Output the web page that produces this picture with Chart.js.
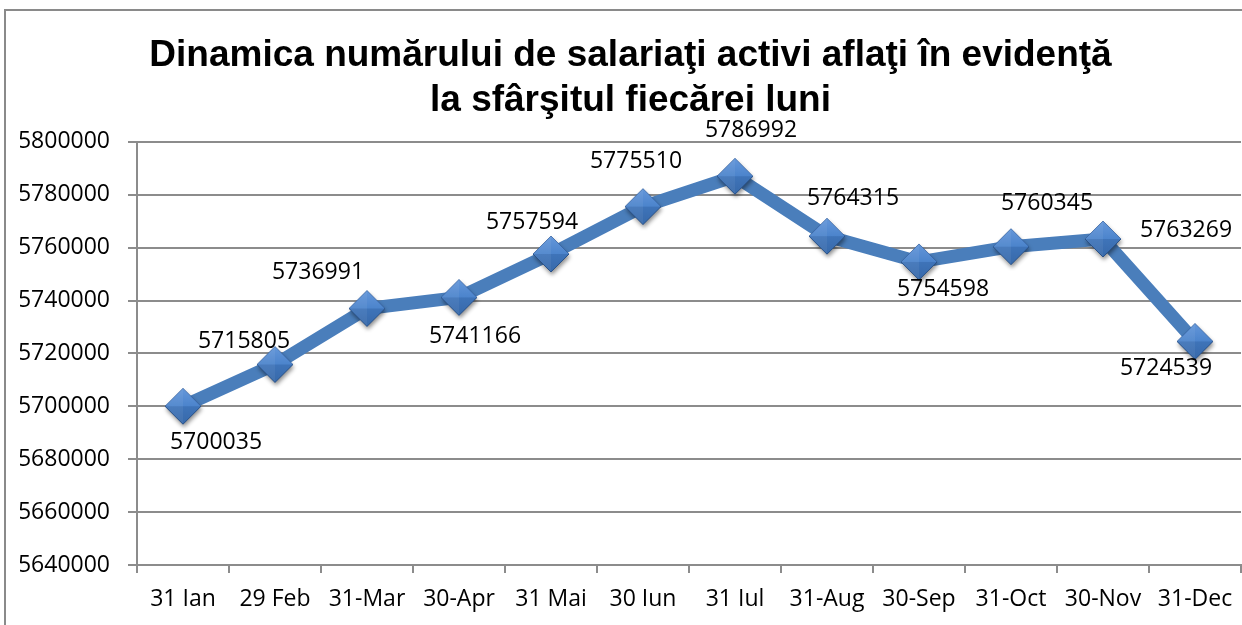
<!DOCTYPE html>
<html>
<head>
<meta charset="utf-8">
<script src="https://cdn.jsdelivr.net/npm/chart.js@4"></script>
<style>
html,body{margin:0;padding:0;background:#fff;}
#wrap{position:relative;width:1242px;height:625px;}
</style>
</head>
<body>
<div id="wrap"><canvas id="c" width="1242" height="625"></canvas></div>
<script>
// ---- data ----
const categories = ['31 Ian','29 Feb','31-Mar','30-Apr','31 Mai','30 Iun','31 Iul','31-Aug','30-Sep','31-Oct','30-Nov','31-Dec'];
const employees = [5700035,5715805,5736991,5741166,5757594,5775510,5786992,5764315,5754598,5760345,5763269,5724539];
const yTicks = [5640000,5660000,5680000,5700000,5720000,5740000,5760000,5780000,5800000];
const titleLines = ['Dinamica numărului de salariaţi activi aflaţi în evidenţă','la sfârşitul fiecărei luni'];

// ---- styling (label offsets relative to each point, px) ----
const labelOffsets = [[33,36],[-31,-23],[-49,-36],[16,39],[-19,-32],[-7,-45],[16,-46],[26,-38],[24,28],[36,-43],[83,-9],[-29,27]];

const TICK_FONT = {family:'"Open Sans", "Liberation Sans", sans-serif', size:23};
const GRID = '#8c8c8c';

// diamond marker image
function makeMarker(){
  const s=52, c=document.createElement('canvas'); c.width=s; c.height=s;
  const g=c.getContext('2d'); const cx=s/2, cy=s/2, r=18;
  g.save();
  g.shadowColor='rgba(0,0,0,0.45)'; g.shadowBlur=4; g.shadowOffsetX=1; g.shadowOffsetY=3;
  g.beginPath(); g.moveTo(cx,cy-r); g.lineTo(cx+r,cy); g.lineTo(cx,cy+r); g.lineTo(cx-r,cy); g.closePath();
  g.fillStyle='#3f74b8'; g.fill();
  g.restore();
  let gr=g.createLinearGradient(0,cy-r,0,cy);
  gr.addColorStop(0,'#6497da'); gr.addColorStop(1,'#4c84cc');
  g.beginPath(); g.moveTo(cx,cy-r); g.lineTo(cx+r,cy); g.lineTo(cx-r,cy); g.closePath(); g.fillStyle=gr; g.fill();
  gr=g.createLinearGradient(0,cy,0,cy+r);
  gr.addColorStop(0,'#3f74b9'); gr.addColorStop(1,'#3769aa');
  g.beginPath(); g.moveTo(cx-r,cy); g.lineTo(cx+r,cy); g.lineTo(cx,cy+r); g.closePath(); g.fillStyle=gr; g.fill();
  g.globalAlpha=0.06; g.fillStyle='#ffffff';
  g.beginPath(); g.moveTo(cx,cy-r); g.lineTo(cx,cy+r); g.lineTo(cx-r,cy); g.closePath(); g.fill();
  g.globalAlpha=1;
  g.strokeStyle='#2a5288'; g.lineWidth=1;
  g.beginPath(); g.moveTo(cx-r,cy); g.lineTo(cx,cy+r); g.lineTo(cx+r,cy); g.stroke();
  g.strokeStyle='rgba(40,80,140,0.5)';
  g.beginPath(); g.moveTo(cx-r,cy); g.lineTo(cx,cy-r); g.lineTo(cx+r,cy); g.stroke();
  return c;
}
const marker = makeMarker();

const frame = {
  id:'frame',
  beforeDraw(chart){
    const ctx=chart.ctx; ctx.save();
    ctx.fillStyle='#fff'; ctx.fillRect(0,0,chart.width,chart.height);
    ctx.strokeStyle='#8a8a8a'; ctx.lineWidth=2;
    ctx.strokeRect(5,10,1300,700);
    ctx.restore();
  }
};

const dataLabels = {
  id:'dataLabels',
  afterDatasetsDraw(chart){
    const ctx=chart.ctx, meta=chart.getDatasetMeta(0);
    ctx.save();
    ctx.font = TICK_FONT.size+'px '+TICK_FONT.family;
    ctx.fillStyle='#000'; ctx.textAlign='center'; ctx.textBaseline='middle';
    meta.data.forEach((pt,i)=>{
      const o=labelOffsets[i];
      ctx.fillText(String(employees[i]), pt.x+o[0], pt.y+o[1]);
    });
    ctx.restore();
  }
};

function zeroPad(s){s.paddingLeft=0;s.paddingRight=0;s.paddingTop=0;s.paddingBottom=0;}

new Chart(document.getElementById('c'),{
  type:'line',
  data:{labels:categories,datasets:[{
    data:employees,
    borderColor:'#4a7ebb', borderWidth:13, borderJoinStyle:'round', borderCapStyle:'round',
    pointStyle:marker, pointRadius:18, pointHoverRadius:18, tension:0, fill:false, clip:false
  }]},
  options:{
    responsive:false, animation:false,
    layout:{autoPadding:false,padding:{left:20,right:1,top:0,bottom:0}},
    plugins:{
      legend:{display:false}, tooltip:{enabled:false},
      title:{display:true,text:titleLines,color:'#000',
        font:{family:'"Liberation Sans", Arial, sans-serif',size:37,weight:'bold',lineHeight:1.2},
        padding:{top:34,bottom:19}}
    },
    scales:{
      x:{offset:true,
        afterFit(s){s.height=60;zeroPad(s);},
        grid:{offset:true,drawOnChartArea:false,drawTicks:true,tickLength:8,color:GRID,lineWidth:2},
        border:{color:GRID,width:2},
        ticks:{font:TICK_FONT,color:'#000',padding:13,maxRotation:0,autoSkip:false}},
      y:{min:5640000,max:5800000,
        afterBuildTicks(s){s.ticks=yTicks.map(v=>({value:v}));},
        afterFit(s){s.width=117;zeroPad(s);},
        grid:{color:GRID,lineWidth:2,tickLength:9,drawTicks:true},
        border:{color:GRID,width:2},
        ticks:{font:TICK_FONT,color:'#000',padding:18,callback:v=>String(v)}}
    }
  },
  plugins:[frame,dataLabels]
});
</script>
</body>
</html>
